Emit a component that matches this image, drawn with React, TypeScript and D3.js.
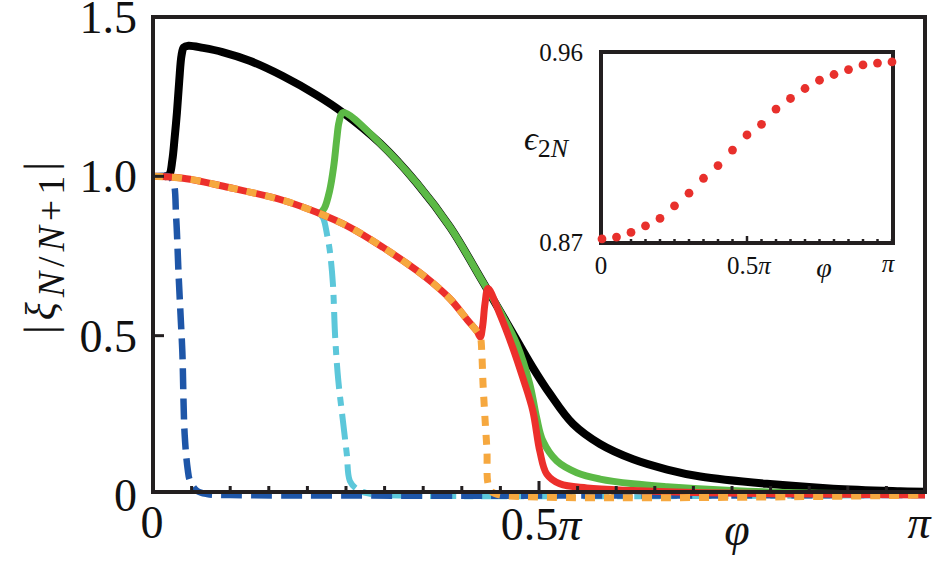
import React, { useEffect, useRef } from 'react';
import * as d3 from 'd3';

// phi is stored in units of pi, values are |xi|
const arcPoints: [number, number][] = [
  [0, 1.0], [0.039, 0.994], [0.104, 0.962], [0.168, 0.925], [0.212, 0.887],
  [0.255, 0.84], [0.298, 0.777], [0.342, 0.704], [0.363, 0.664], [0.385, 0.615],
  [0.407, 0.55], [0.42, 0.512], [0.424, 0.496],
];

const blackCurve: [number, number][] = [
  [0.015, 1.0], [0.021, 1.005], [0.025, 1.05], [0.028, 1.12], [0.031, 1.2],
  [0.034, 1.3], [0.037, 1.38], [0.04, 1.405], [0.046, 1.41], [0.065, 1.403],
  [0.09, 1.39], [0.126, 1.362], [0.168, 1.315], [0.212, 1.255], [0.246, 1.2],
  [0.294, 1.104], [0.342, 0.978], [0.385, 0.84], [0.427, 0.67], [0.462, 0.525],
  [0.492, 0.4], [0.514, 0.318], [0.544, 0.223], [0.579, 0.16], [0.622, 0.112],
  [0.666, 0.08], [0.709, 0.058], [0.795, 0.035], [0.881, 0.02], [0.968, 0.012],
  [1.0, 0.01],
];

const greenCurve: [number, number][] = [
  [0.216, 0.883], [0.222, 0.9], [0.229, 0.957], [0.234, 1.03], [0.238, 1.116],
  [0.241, 1.17], [0.246, 1.2], [0.294, 1.104], [0.342, 0.978], [0.385, 0.84],
  [0.427, 0.67], [0.45, 0.575], [0.471, 0.475], [0.488, 0.349], [0.497, 0.242],
  [0.505, 0.17], [0.523, 0.107], [0.549, 0.07], [0.579, 0.05], [0.622, 0.035],
  [0.666, 0.026], [0.75, 0.014], [0.85, 0.006], [1.0, 0.002],
];

const redTail: [number, number][] = [
  [0.427, 0.53], [0.43, 0.6], [0.434, 0.648], [0.449, 0.569], [0.466, 0.462],
  [0.479, 0.368], [0.492, 0.264], [0.501, 0.138], [0.51, 0.066], [0.527, 0.035],
  [0.562, 0.022], [0.622, 0.014], [0.7, 0.008], [0.8, 0.004], [1.0, 0.0],
];

const orangeTail: [number, number][] = [
  [0.426, 0.44], [0.4275, 0.349], [0.43, 0.242], [0.4326, 0.138], [0.434, 0.035],
  [0.439, 0.01], [0.45, 0], [1.0, 0],
];

const cyanCurve: [number, number][] = [
  [0.214, 0.885], [0.22, 0.871], [0.226, 0.81], [0.229, 0.767], [0.233, 0.664],
  [0.236, 0.494], [0.24, 0.36], [0.246, 0.233], [0.251, 0.129], [0.255, 0.044],
  [0.264, 0.019], [0.277, 0.006], [0.3, 0], [1.0, 0],
];

const blueCurve: [number, number][] = [
  [0, 1.0], [0.02, 1.0], [0.026, 0.985], [0.03, 0.87], [0.033, 0.7],
  [0.036, 0.55], [0.038, 0.45], [0.041, 0.19], [0.045, 0.08], [0.048, 0.044],
  [0.057, 0.013], [0.07, 0.003], [0.1, 0], [1.0, 0],
];

// inset: epsilon_2N sampled every pi/20
const insetEps = [
  0.8719, 0.8728, 0.875, 0.8781, 0.8816, 0.8875, 0.8935, 0.9005, 0.9065, 0.9138,
  0.9209, 0.9259, 0.9331, 0.9381, 0.9428, 0.9467, 0.9494, 0.9517, 0.9539, 0.9548,
  0.9553,
];

const yTickValues = [0, 0.5, 1.0, 1.5];
const yTickLabels = ['0', '0.5', '1.0', '1.5'];

const SERIF = 'Liberation Serif, Times New Roman, Times, DejaVu Serif, serif';

const App = () => {
  const ref = useRef<SVGSVGElement>(null);

  useEffect(() => {
    const svg = d3.select(ref.current);
    svg.selectAll('*').remove();

    const x = d3.scaleLinear().domain([0, 1]).range([153, 925]);
    const y = d3.scaleLinear().domain([0, 1.5]).range([495, 17]);

    const line = d3
      .line<[number, number]>()
      .x((d) => x(d[0]))
      .y((d) => y(d[1]))
      .curve(d3.curveCatmullRom.alpha(0.5));

    const gCurves = svg.append('g').attr('fill', 'none');

    const drawCurve = (pts: [number, number][], color: string, width: number, dash?: string) => {
      const p = gCurves
        .append('path')
        .attr('d', line(pts))
        .attr('stroke', color)
        .attr('stroke-width', width)
        .attr('stroke-linejoin', 'round');
      if (dash) p.attr('stroke-dasharray', dash);
    };

    drawCurve(blackCurve, '#000000', 8);
    drawCurve(greenCurve, '#5cb946', 7);
    drawCurve(cyanCurve, '#5cc7da', 6, '26,8,9,8');
    drawCurve(blueCurve, '#1e56a8', 6.5, '21,9');
    drawCurve([...arcPoints, ...redTail], '#ec2f2b', 7);
    drawCurve([...arcPoints, ...orangeTail], '#f6a83f', 7, '10,9');

    // frame
    svg
      .append('rect')
      .attr('x', 153)
      .attr('y', 17)
      .attr('width', 925 - 153)
      .attr('height', 492 - 17)
      .attr('fill', 'none')
      .attr('stroke', '#231f20')
      .attr('stroke-width', 4);

    // x ticks every pi/20, pointing inward
    const xTicks = d3.range(21).map((i) => i / 20);
    svg
      .append('g')
      .selectAll('line')
      .data(xTicks)
      .join('line')
      .attr('x1', (d) => x(d))
      .attr('x2', (d) => x(d))
      .attr('y1', 492)
      .attr('y2', (d, i) => (i === 10 ? 481 : 486))
      .attr('stroke', '#231f20')
      .attr('stroke-width', 3);

    svg
      .append('g')
      .selectAll('line')
      .data([0.5, 1.0])
      .join('line')
      .attr('x1', 153)
      .attr('x2', 164)
      .attr('y1', (d) => y(d))
      .attr('y2', (d) => y(d))
      .attr('stroke', '#231f20')
      .attr('stroke-width', 3);

    // y tick labels
    svg
      .append('g')
      .selectAll('text')
      .data(yTickValues)
      .join('text')
      .attr('x', 137)
      .attr('y', (d) => y(d) + 16)
      .attr('text-anchor', 'end')
      .attr('font-family', SERIF)
      .attr('font-size', 46)
      .attr('fill', '#111')
      .text((d, i) => yTickLabels[i]);

    // x tick labels
    const xl = svg
      .append('g')
      .attr('font-family', SERIF)
      .attr('font-size', 46)
      .attr('fill', '#111')
      .attr('text-anchor', 'middle');
    xl.append('text').attr('x', x(0) - 1).attr('y', 538).text('0');
    const half = xl.append('text').attr('x', x(0.5) + 2).attr('y', 540);
    half.append('tspan').text('0.5');
    half.append('tspan').attr('font-style', 'italic').text('π');
    xl.append('text').attr('x', x(1) - 6).attr('y', 538).attr('font-style', 'italic').text('π');
    xl.append('text').attr('x', 737).attr('y', 545).attr('font-style', 'italic').text('φ');

    // y axis label
    const yl = svg
      .append('text')
      .attr('transform', 'translate(55,334) rotate(-90)')
      .attr('font-family', SERIF)
      .attr('fill', '#111')
      .attr('textLength', 172)
      .attr('lengthAdjust', 'spacing');
    yl.append('tspan').attr('font-size', 44).text('|');
    yl.append('tspan').attr('font-size', 42).attr('font-style', 'italic').text('ξ');
    const sub = yl.append('tspan').attr('font-size', 38).attr('dy', 9);
    sub.append('tspan').attr('font-style', 'italic').text('N');
    sub.append('tspan').text('/');
    sub.append('tspan').attr('font-style', 'italic').text('N');
    sub.append('tspan').text('+1');
    yl.append('tspan').attr('font-size', 44).attr('dy', -9).text('|');

    // inset
    const ix = d3.scaleLinear().domain([0, 1]).range([602, 892]);
    const iy = d3.scaleLinear().domain([0.87, 0.96]).range([243, 52]);
    const inset = svg.append('g');

    inset
      .append('rect')
      .attr('x', 601)
      .attr('y', 52)
      .attr('width', 893 - 601)
      .attr('height', 243 - 52)
      .attr('fill', 'white')
      .attr('stroke', '#231f20')
      .attr('stroke-width', 4);

    inset
      .append('g')
      .selectAll('line')
      .data(xTicks)
      .join('line')
      .attr('x1', (d) => ix(d))
      .attr('x2', (d) => ix(d))
      .attr('y1', 243)
      .attr('y2', (d, i) => (i === 10 ? 236 : 239))
      .attr('stroke', '#231f20')
      .attr('stroke-width', 2.5);

    inset
      .append('g')
      .selectAll('circle')
      .data(insetEps)
      .join('circle')
      .attr('cx', (d, i) => ix(i / 20))
      .attr('cy', (d) => iy(d))
      .attr('r', 4.4)
      .attr('fill', '#e8302c');

    const il = inset
      .append('g')
      .attr('font-family', SERIF)
      .attr('font-size', 25)
      .attr('fill', '#111');
    il.append('text').attr('x', 583).attr('y', 61).attr('text-anchor', 'end').text('0.96');
    il.append('text').attr('x', 583).attr('y', 251).attr('text-anchor', 'end').text('0.87');
    il.append('text').attr('x', 601).attr('y', 274).attr('text-anchor', 'middle').text('0');
    const ih = il.append('text').attr('x', 749).attr('y', 274).attr('text-anchor', 'middle');
    ih.append('tspan').text('0.5');
    ih.append('tspan').attr('font-style', 'italic').text('π');
    il.append('text').attr('x', 824).attr('y', 277).attr('text-anchor', 'middle').attr('font-style', 'italic').attr('font-size', 28).text('φ');
    il.append('text').attr('x', 888).attr('y', 272).attr('text-anchor', 'middle').attr('font-style', 'italic').text('π');

    const eps = il.append('text').attr('x', 524).attr('y', 150);
    eps.append('tspan').attr('font-size', 34).attr('font-style', 'italic').text('ϵ');
    const esub = eps.append('tspan').attr('font-size', 26).attr('dy', 7);
    esub.append('tspan').text('2');
    esub.append('tspan').attr('font-style', 'italic').text('N');
  }, []);

  return (
    <div style={{ position: 'absolute', left: 0, top: 0 }}>
      <svg ref={ref} width={943} height={561} style={{ display: 'block', background: '#fff' }} />
    </div>
  );
};

export default App;
